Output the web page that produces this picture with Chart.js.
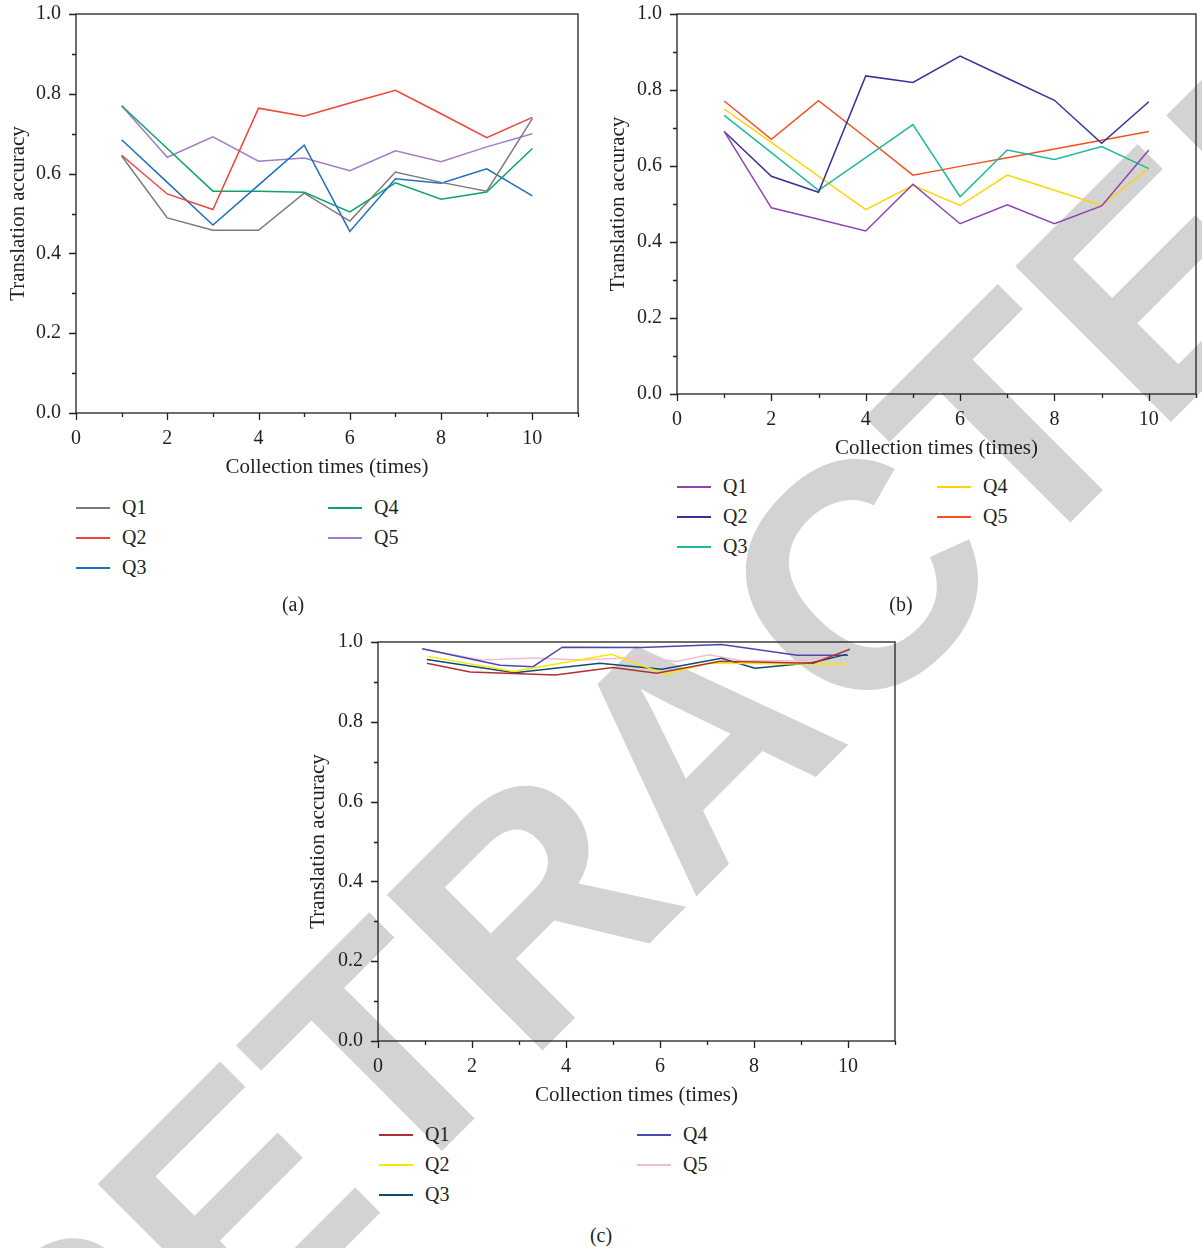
<!DOCTYPE html>
<html>
<head>
<meta charset="utf-8">
<script src="https://cdn.jsdelivr.net/npm/chart.js@4.4.1/dist/chart.umd.min.js"></script>
<style>
  html, body { margin: 0; padding: 0; background: #fff; }
  body { width: 1202px; height: 1248px; position: relative; overflow: hidden;
         font-family: "Liberation Serif", serif; color: #231f20; }
  #wm { position: absolute; left: 694px; top: 742px; font-family: "Liberation Sans", sans-serif;
        font-weight: bold; font-size: 320px; line-height: 1; color: #d3d3d3; white-space: nowrap;
        transform: translate(-50%, -50%) rotate(-45deg); }
  canvas { position: absolute; }
  .legend { position: absolute; font-size: 20px; line-height: 30px; }
  .legend .item { position: absolute; white-space: nowrap; }
  .legend .sw { position: absolute; left: 0; top: 0; width: 34px; height: 1.6px; }
  .legend .lab { position: absolute; left: 46px; top: -15px; }
  .cap { position: absolute; font-size: 20px; transform: translate(-50%, -50%); }
</style>
</head>
<body>
<div id="wm">RETRACTED</div>

<canvas id="chartA" width="600" height="503" style="left:0;top:-13px"></canvas>
<canvas id="chartB" width="602" height="484" style="left:600px;top:-13px"></canvas>
<canvas id="chartC" width="600" height="503" style="left:300px;top:615px"></canvas>

<div class="legend" id="legA" style="left:76px;top:507px"></div>
<div class="legend" id="legB" style="left:677px;top:486px"></div>
<div class="legend" id="legC" style="left:379px;top:1134px"></div>

<div class="cap" style="left:293px;top:604px">(a)</div>
<div class="cap" style="left:901px;top:604px">(b)</div>
<div class="cap" style="left:601px;top:1235px">(c)</div>

<script>
// x positions for panels (a) and (b)
const collections = [1, 2, 3, 4, 5, 6, 7, 8, 9, 10];
const seriesNames = ['Q1', 'Q2', 'Q3', 'Q4', 'Q5'];

// panel (a)
const aQ1 = [0.644, 0.489, 0.458, 0.458, 0.551, 0.481, 0.604, 0.578, 0.556, 0.738];
const aQ2 = [0.646, 0.549, 0.510, 0.764, 0.744, 0.777, 0.809, 0.750, 0.690, 0.741];
const aQ3 = [0.685, 0.578, 0.471, 0.571, 0.671, 0.455, 0.587, 0.576, 0.612, 0.544];
const aQ4 = [0.770, 0.663, 0.556, 0.556, 0.553, 0.504, 0.577, 0.536, 0.554, 0.663];
const aQ5 = [0.770, 0.641, 0.692, 0.631, 0.639, 0.607, 0.657, 0.630, 0.667, 0.700];
const aColors = ['#7a7a7a', '#f0433a', '#1f6fc0', '#0aa56c', '#a47bc8'];

// panel (b)
const bQ1 = [0.691, 0.490, 0.460, 0.429, 0.552, 0.448, 0.498, 0.448, 0.495, 0.642];
const bQ2 = [0.691, 0.573, 0.531, 0.837, 0.820, 0.889, 0.831, 0.773, 0.660, 0.769];
const bQ3 = [0.733, 0.635, 0.536, 0.622, 0.709, 0.519, 0.642, 0.617, 0.651, 0.593];
const bQ4 = [0.750, 0.662, 0.573, 0.485, 0.549, 0.496, 0.576, 0.536, 0.496, 0.594];
const bQ5 = [0.771, 0.670, 0.772, 0.675, 0.576, 0.599, 0.622, 0.645, 0.668, 0.691];
const bColors = ['#8e44ad', '#3b2f98', '#1dba9b', '#fdd400', '#f4511e'];

// panel (c): points sit off the integer grid, so each series keeps its own x
const cQ1x = [1.04, 1.96, 3.77, 5.00, 5.93, 7.28, 9.26, 10.04];
const cQ1y = [0.947, 0.925, 0.917, 0.936, 0.922, 0.952, 0.947, 0.982];
const cQ2x = [1.06, 2.88, 4.97, 6.11, 7.06, 9.97];
const cQ2y = [0.964, 0.926, 0.969, 0.919, 0.947, 0.944];
const cQ3x = [1.04, 2.91, 4.72, 6.04, 7.31, 8.02, 9.23, 9.97];
const cQ3y = [0.956, 0.923, 0.947, 0.932, 0.959, 0.934, 0.948, 0.969];
const cQ4x = [0.94, 2.60, 3.30, 3.92, 5.60, 7.31, 8.92, 10.00];
const cQ4y = [0.983, 0.942, 0.938, 0.987, 0.986, 0.994, 0.967, 0.967];
const cQ5x = [0.94, 2.20, 3.30, 4.30, 5.60, 6.35, 7.04, 7.75, 8.90, 9.97];
const cQ5y = [0.983, 0.955, 0.960, 0.955, 0.962, 0.951, 0.968, 0.953, 0.953, 0.970];
const cColors = ['#b0302f', '#fbe600', '#0d4d73', '#4848b0', '#f2bcd9'];

const INK = '#231f20';
const FONT = 'Liberation Serif';

// box frame + major/minor outward ticks
const framePlugin = {
  id: 'frame',
  afterDraw(chart) {
    const { ctx, chartArea: a, scales: { x, y } } = chart;
    ctx.save();
    ctx.strokeStyle = INK;
    ctx.lineWidth = 1.3;
    ctx.strokeRect(a.left, a.top, a.right - a.left, a.bottom - a.top);
    ctx.beginPath();
    for (let v = 0; v <= 11; v++) {
      const px = Math.round(x.getPixelForValue(v)) + 0.5;
      const len = v % 2 ? 4 : 7;
      ctx.moveTo(px, a.bottom);
      ctx.lineTo(px, a.bottom + len);
    }
    for (let i = 0; i <= 10; i++) {
      const py = Math.round(y.getPixelForValue(i / 10)) + 0.5;
      const len = i % 2 ? 4 : 7;
      ctx.moveTo(a.left, py);
      ctx.lineTo(a.left - len, py);
    }
    ctx.stroke();
    ctx.restore();
  }
};

function pts(xs, ys) {
  return ys.map((v, i) => ({ x: xs[i], y: v }));
}

function makeChart(id, series, colors, yWidth, pad) {
  const datasets = series.map((s, i) => ({
    label: seriesNames[i],
    data: s,
    borderColor: colors[i],
    backgroundColor: colors[i],
    borderWidth: 1.5,
    pointRadius: 0,
    tension: 0
  }));
  return new Chart(document.getElementById(id), {
    type: 'line',
    data: { datasets },
    options: {
      responsive: false,
      animation: false,
      devicePixelRatio: 1,
      layout: { padding: pad },
      plugins: { legend: { display: false }, tooltip: { enabled: false } },
      scales: {
        x: {
          type: 'linear', min: 0, max: 11,
          grid: { display: false, drawTicks: false },
          border: { display: false },
          ticks: { stepSize: 2, includeBounds: false, padding: 14, color: INK,
                   font: { family: FONT, size: 20 } },
          title: { display: true, text: 'Collection times (times)', color: INK,
                   font: { family: FONT, size: 21 }, padding: { top: 0, bottom: 10 } },
          afterFit: s => { s.height = 77; }
        },
        y: {
          min: 0, max: 1,
          grid: { display: false, drawTicks: false },
          border: { display: false },
          ticks: { stepSize: 0.2, padding: 15, color: INK, font: { family: FONT, size: 20 },
                   callback: v => v.toFixed(1) },
          title: { display: true, text: 'Translation accuracy', color: INK,
                   font: { family: FONT, size: 21 }, padding: { top: 6, bottom: 0 } },
          afterFit: s => { s.width = yWidth; }
        }
      }
    },
    plugins: [framePlugin]
  });
}

function buildLegend(chart, id, colGap) {
  const box = document.getElementById(id);
  chart.data.datasets.forEach((ds, i) => {
    const col = i < 3 ? 0 : 1;
    const row = i < 3 ? i : i - 3;
    const item = document.createElement('div');
    item.className = 'item';
    item.style.left = (col * colGap) + 'px';
    item.style.top = (row * 30) + 'px';
    item.innerHTML = '<span class="sw" style="background:' + ds.borderColor +
      '"></span><span class="lab">' + ds.label + '</span>';
    box.appendChild(item);
  });
}

const chartA = makeChart('chartA',
  [aQ1, aQ2, aQ3, aQ4, aQ5].map(s => pts(collections, s)), aColors, 76,
  { top: 0, right: 22, left: 0, bottom: 0 });
const chartB = makeChart('chartB',
  [bQ1, bQ2, bQ3, bQ4, bQ5].map(s => pts(collections, s)), bColors, 77,
  { top: 0, right: 6, left: 0, bottom: 0 });
const chartC = makeChart('chartC',
  [pts(cQ1x, cQ1y), pts(cQ2x, cQ2y), pts(cQ3x, cQ3y), pts(cQ4x, cQ4y), pts(cQ5x, cQ5y)],
  cColors, 78, { top: 0, right: 5, left: 0, bottom: 0 });

buildLegend(chartA, 'legA', 252);
buildLegend(chartB, 'legB', 260);
buildLegend(chartC, 'legC', 258);
</script>
</body>
</html>
